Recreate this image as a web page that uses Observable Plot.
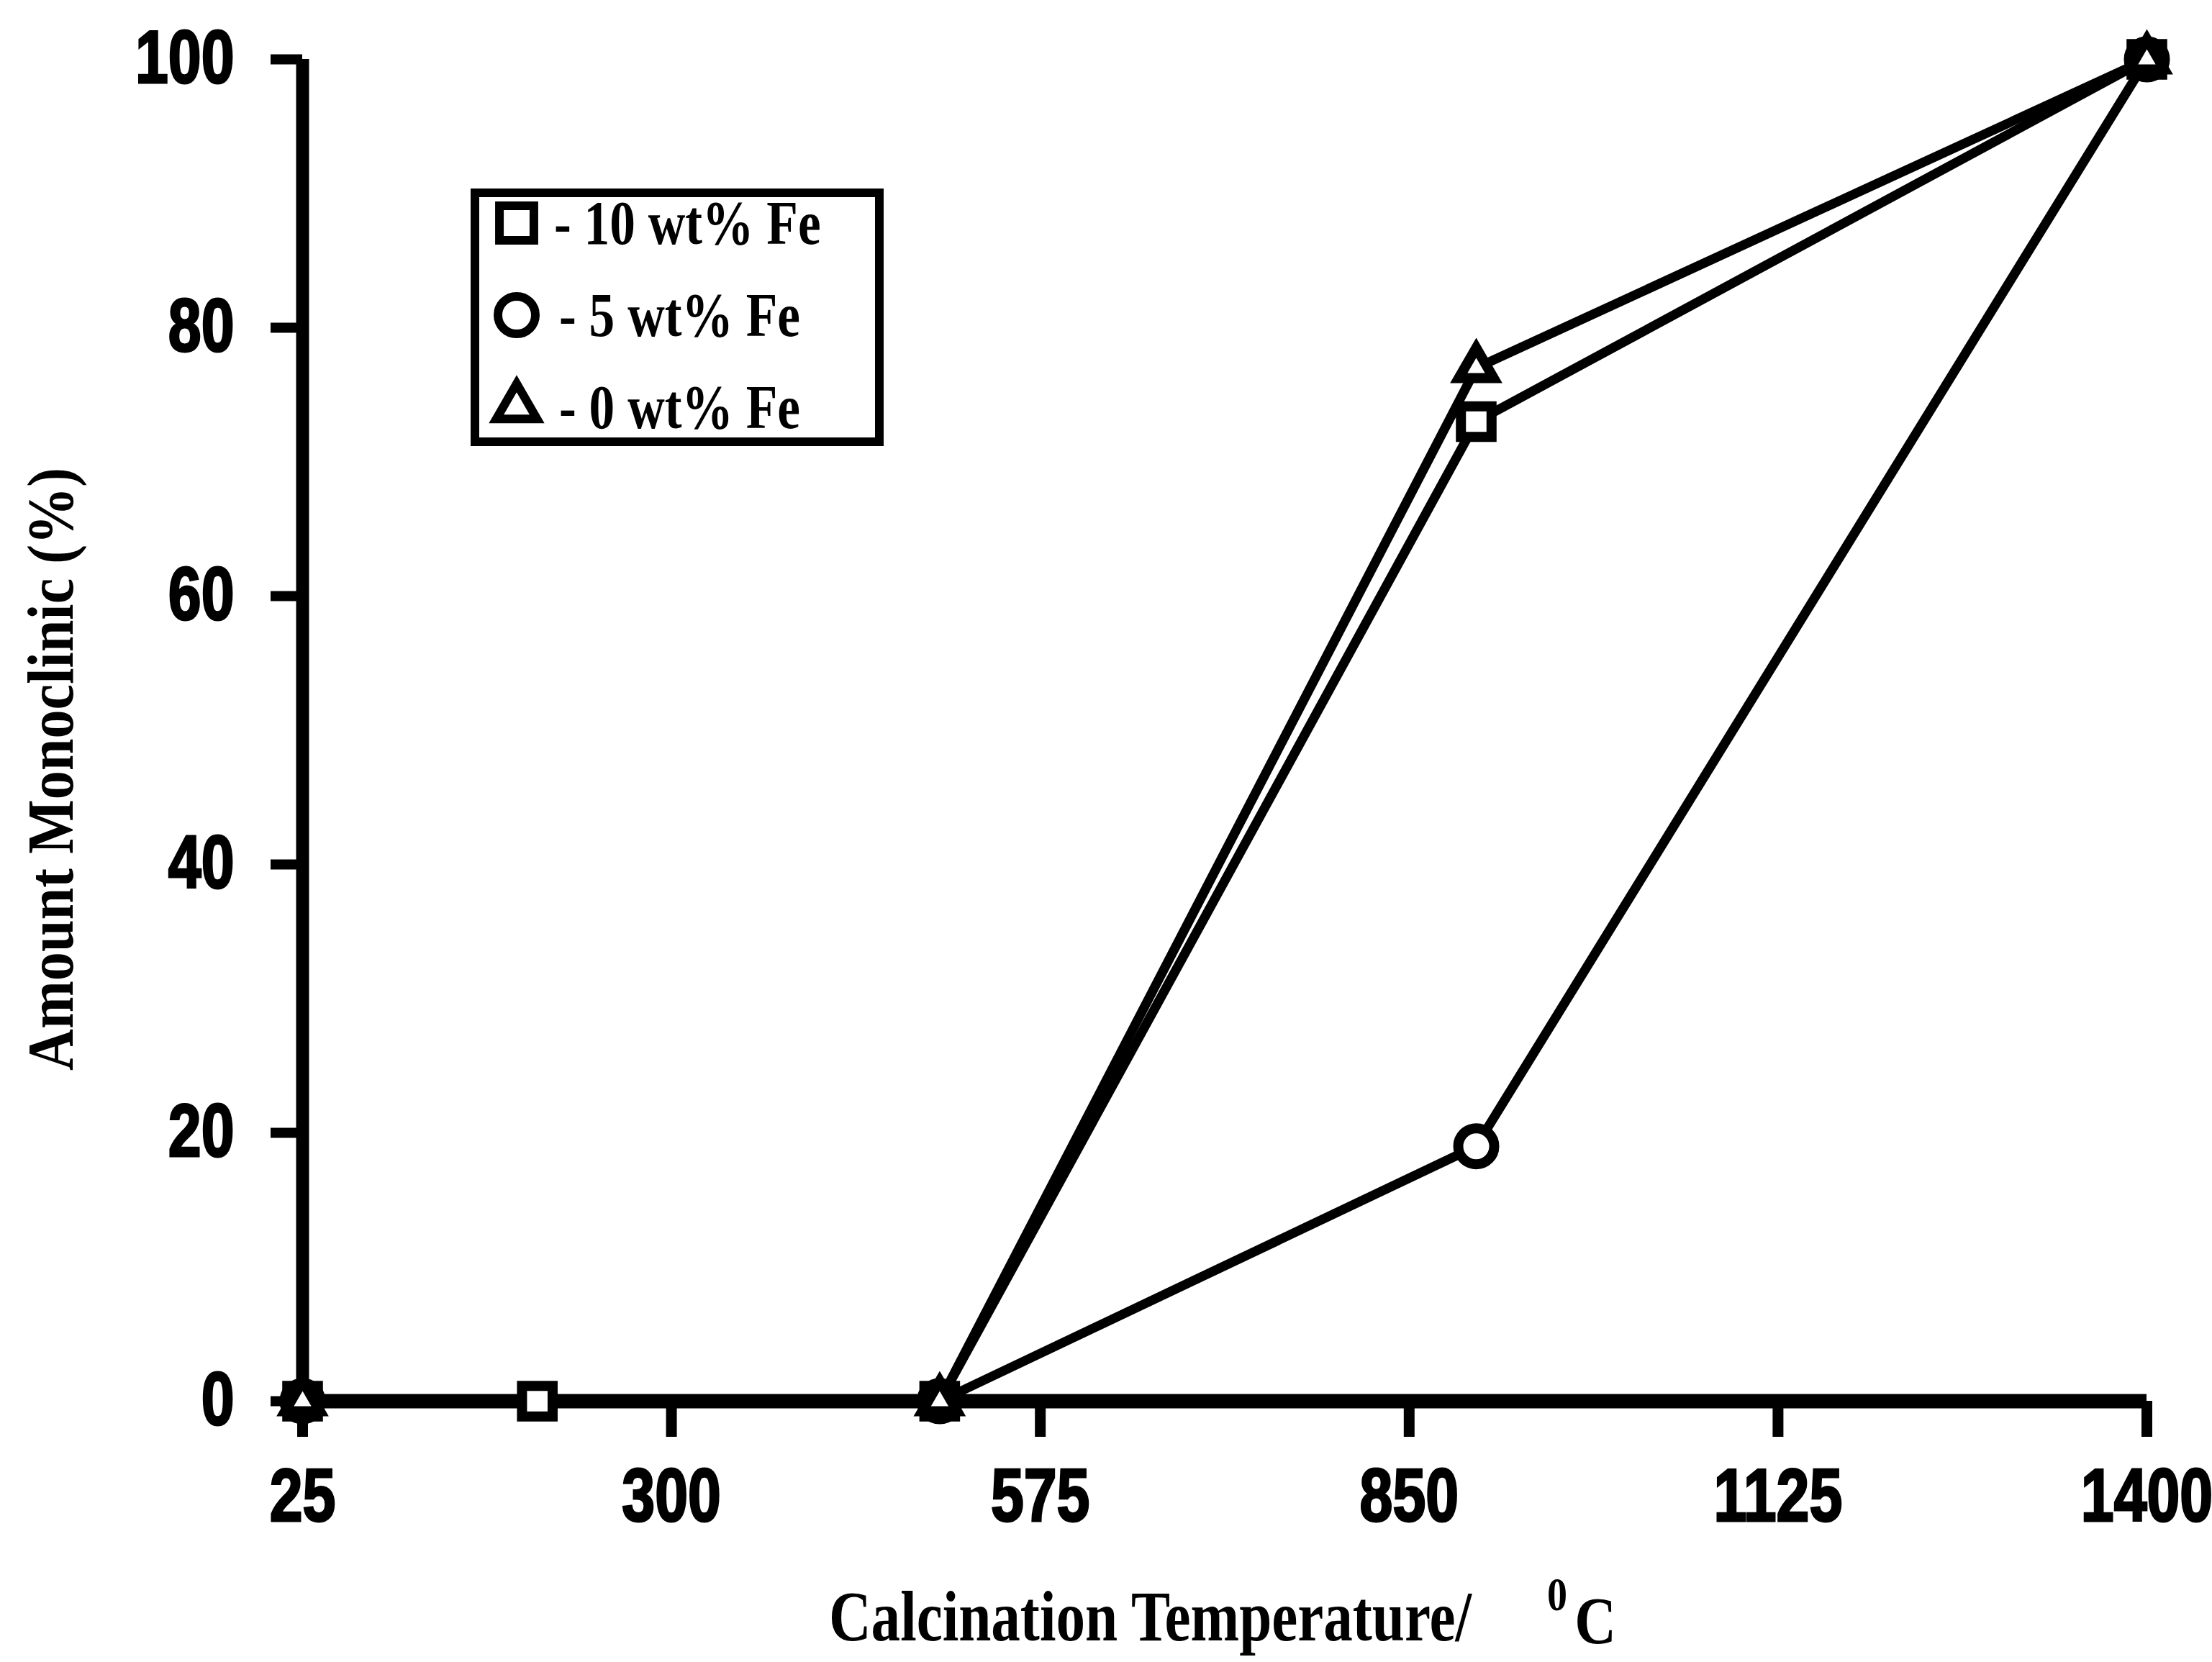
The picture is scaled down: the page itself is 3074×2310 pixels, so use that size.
<!DOCTYPE html>
<html>
<head>
<meta charset="utf-8">
<script src="https://cdn.jsdelivr.net/npm/d3@7"></script>
<script src="https://cdn.jsdelivr.net/npm/@observablehq/plot@0.6"></script>
<style>
  html, body { margin: 0; padding: 0; background: #fff; }
  #chart { width: 3074px; height: 2310px; }
  g[aria-label$="tick label"] text { stroke: #000; stroke-width: 3px; }
</style>
</head>
<body>
<div id="chart"></div>
<script>
// ---- Data ----
const seriesNames = ["10 wt% Fe", "5 wt% Fe", "0 wt% Fe"];
const temps10 = [25, 200, 500, 900, 1400];
const amount10 = [0, 0, 0, 73, 100];
const temps5 = [25, 500, 900, 1400];
const amount5 = [0, 0, 19, 100];
const temps0 = [25, 500, 900, 1400];
const amount0 = [0, 0, 77, 100];
const xTicks = [25, 300, 575, 850, 1125, 1400];
const yTicks = [0, 20, 40, 60, 80, 100];
const xTitle = "Calcination Temperature/";
const xUnitSup = "0";
const xUnit = "C";
const yTitle = "Amount Monoclinic (%)";

// ---- Build table ----
const seriesData = [[temps10, amount10], [temps5, amount5], [temps0, amount0]];
const rows = [];
seriesData.forEach(([ts, vs], i) => ts.forEach((t, j) => rows.push({series: seriesNames[i], t, v: vs[j]})));

// ---- Styles ----
const W = 3074, H = 2310;
const symbolTypes = ["square", "circle", "triangle"];
const d3Symbols = [d3.symbolSquare, d3.symbolCircle, d3.symbolTriangle];
const symbolRadius = [24, 25, 18];
const legendRadius = [27, 26, 21];
const rOf = s => symbolRadius[seriesNames.indexOf(s)];
const serif = "'Liberation Serif', 'Times New Roman', serif";
const sans = "'Liberation Sans', Arial, sans-serif";
const fmt = d => String(d);
const unitLabel = xUnitSup + xUnit;

const plot = Plot.plot({
  width: W,
  height: H,
  marginLeft: 420,
  marginRight: 91,
  marginTop: 82,
  marginBottom: 363,
  style: {background: "white", fontFamily: serif, color: "black"},
  x: {domain: [25, 1400]},
  y: {domain: [0, 100]},
  symbol: {domain: seriesNames, range: symbolTypes},
  r: {type: "identity"},
  marks: [
    Plot.axisX(xTicks, {tickFormat: fmt, tickSize: 50, tickPadding: 43, strokeWidth: 15, fontSize: 103, fontWeight: "bold", fontFamily: sans, label: null}),
    Plot.axisY(yTicks, {tickFormat: fmt, tickSize: 44, tickPadding: 51, strokeWidth: 14, fontSize: 103, fontWeight: "bold", fontFamily: sans, label: null}),
    Plot.ruleY([0], {stroke: "black", strokeWidth: 20}),
    Plot.ruleX([25], {y1: 0, y2: 100, stroke: "black", strokeWidth: 18}),
    Plot.line(rows, {x: "t", y: "v", z: "series", stroke: "black", strokeWidth: 13}),
    Plot.dot(rows, {x: "t", y: "v", symbol: "series", r: d => rOf(d.series), fill: "white", stroke: "black", strokeWidth: 14}),
    Plot.text([yTitle], {text: d => d, frameAnchor: "left", textAnchor: "middle", lineAnchor: "middle", rotate: -90, dx: -349, dy: 54, fontSize: 92, fontWeight: "bold", fontFamily: serif, fill: "black"}),
    Plot.text([xTitle], {text: d => d, frameAnchor: "bottom", textAnchor: "middle", lineAnchor: "middle", dx: -103.5, dy: 300, fontSize: 100, fontWeight: "bold", fontFamily: serif, fill: "black"}),
    Plot.text([unitLabel], {text: d => d, frameAnchor: "bottom", textAnchor: "start", lineAnchor: "middle", dx: 448, dy: 306, fontSize: 94, fontWeight: "bold", fontFamily: serif, fill: "black"})
  ]
});

document.getElementById("chart").appendChild(plot);
const svg = d3.select(plot);

// condense tick labels horizontally
svg.selectAll('g[aria-label$="tick label"] text').each(function() {
  const t = this.getAttribute("transform") || "";
  this.setAttribute("transform", t + " scale(0.8,1)");
});

// compress titles
function squeeze(content, len) {
  svg.selectAll("text").filter(function() { return this.textContent === content; })
    .attr("textLength", len).attr("lengthAdjust", "spacingAndGlyphs");
}
squeeze(yTitle, 838);
squeeze(xTitle, 893);

// unit with superscript zero
svg.selectAll("text").filter(function() { return this.textContent === unitLabel; })
  .each(function() {
    const t = this.getAttribute("transform") || "";
    this.setAttribute("transform", t + " scale(0.85,1)");
    const el = d3.select(this);
    el.text(null);
    el.append("tspan").attr("font-size", 66).attr("dy", -46).text(xUnitSup);
    el.append("tspan").attr("dx", 12).attr("dy", 46).text(xUnit);
  });

// ---- Legend (inside the plot area) ----
const lg = svg.append("g").attr("aria-label", "legend").attr("text-anchor", "start");
lg.append("rect")
  .attr("x", 660).attr("y", 268).attr("width", 562).attr("height", 346)
  .attr("fill", "white").attr("stroke", "black").attr("stroke-width", 12);
seriesNames.forEach((s, i) => {
  const cy = 310 + i * 128;
  const r = legendRadius[i];
  lg.append("path")
    .attr("d", d3.symbol(d3Symbols[i], r * r * Math.PI)())
    .attr("transform", `translate(718,${cy})`)
    .attr("fill", "white").attr("stroke", "black").attr("stroke-width", 12);
  lg.append("text")
    .attr("text-anchor", "start")
    .attr("transform", `translate(${i === 0 ? 770 : 777},${cy + 29}) scale(0.83,1)`)
    .attr("font-family", serif).attr("font-weight", "bold").attr("font-size", 86)
    .attr("fill", "black")
    .text("- " + s);
});
</script>
</body>
</html>
